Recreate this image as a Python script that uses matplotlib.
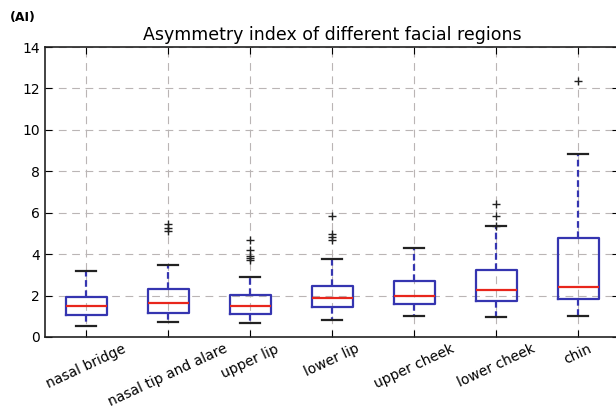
import numpy as np
import matplotlib
matplotlib.use("Agg")
import matplotlib.pyplot as plt

# Box statistics (asymmetry index)
regions = ["nasal bridge", "nasal tip and alare", "upper lip", "lower lip",
           "upper cheek", "lower cheek", "chin"]
q1 = [1.08, 1.16, 1.11, 1.46, 1.59, 1.73, 1.83]
medians = [1.50, 1.65, 1.49, 1.86, 1.96, 2.26, 2.40]
q3 = [1.94, 2.32, 2.03, 2.45, 2.72, 3.22, 4.76]
whisker_low = [0.52, 0.73, 0.66, 0.80, 0.99, 0.95, 0.99]
whisker_high = [3.18, 3.47, 2.91, 3.77, 4.31, 5.34, 8.85]
outliers = [
    [],
    [5.45, 5.25, 5.10],
    [4.70, 4.20, 3.90, 3.80, 3.70],
    [5.85, 4.95, 4.85, 4.70],
    [],
    [6.40, 5.85, 5.35],
    [12.35],
]

stats = []
for i, name in enumerate(regions):
    stats.append({
        "label": name,
        "med": medians[i],
        "q1": q1[i],
        "q3": q3[i],
        "whislo": whisker_low[i],
        "whishi": whisker_high[i],
        "fliers": outliers[i],
    })

fig = plt.figure(figsize=(6.16, 4.13), dpi=100)
ax = fig.add_axes([45 / 616, 76 / 413, 574 / 616, 290 / 413])

blue = "#3535b0"
ax.bxp(stats, widths=0.5,
       boxprops=dict(color=blue, linewidth=1.6),
       medianprops=dict(color="#e8261c", linewidth=1.6),
       whiskerprops=dict(color=blue, linewidth=1.6, linestyle=(0, (3, 1.6))),
       capprops=dict(color="#222222", linewidth=1.6),
       flierprops=dict(marker="+", markeredgecolor="#222222", markersize=6,
                       markeredgewidth=1.0, linestyle="none"))

ax.set_xlim(0.5, 7.5)
ax.set_ylim(0, 14)
ax.set_yticks(np.arange(0, 15, 2))
ax.grid(True, color="#bab5b5", linestyle=(0, (7, 5)), linewidth=0.8)
ax.set_axisbelow(True)
ax.tick_params(direction="in", top=True, right=True, length=5, labelsize=10)
ax.set_xticklabels(regions, rotation=25, ha="center", fontsize=10)
for s in ax.spines.values():
    s.set_linewidth(1.2)
    s.set_color("#222222")

ax.set_title("Asymmetry index of different facial regions", fontsize=12.5, pad=5)
fig.text(10 / 616, 1 - 18 / 413, "(AI)", fontsize=9, fontweight="bold",
         va="center", ha="left")

fig.savefig("out.png", dpi=100, facecolor="white")
